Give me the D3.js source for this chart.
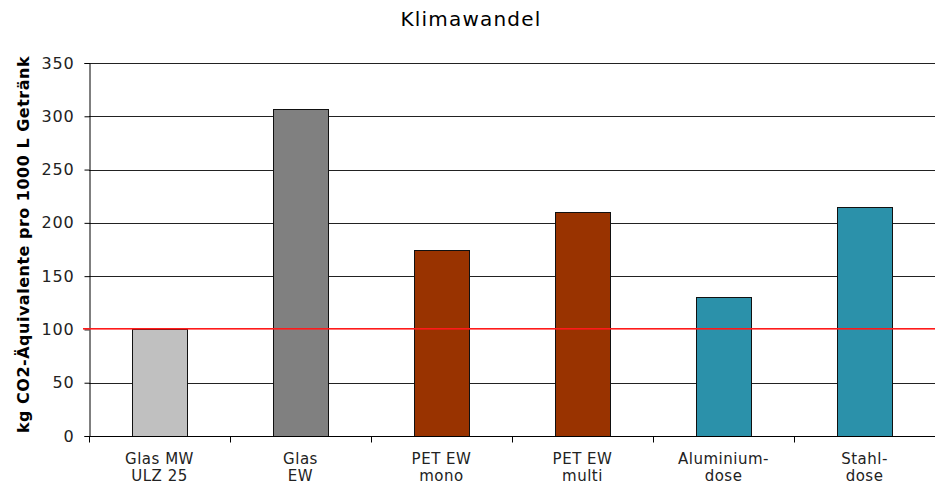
<!DOCTYPE html>
<html>
<head>
<meta charset="utf-8">
<script src="https://cdn.jsdelivr.net/npm/d3@7"></script>
<style>
  body { margin: 0; background: #fff; }
  text { font-family: "DejaVu Sans", Verdana, sans-serif; fill: #000; }
</style>
</head>
<body>
<svg width="935" height="486"></svg>
<script>
// data
const categories = [["Glas MW", "ULZ 25"], ["Glas", "EW"], ["PET EW", "mono"], ["PET EW", "multi"], ["Aluminium-", "dose"], ["Stahl-", "dose"]];
const values = [100, 307, 175, 210, 130, 215];
const colors = ["#c0c0c0", "#808080", "#993300", "#993300", "#2b91aa", "#2b91aa"];
const yTicks = [0, 50, 100, 150, 200, 250, 300, 350];
const refValue = 100;
const title = "Klimawandel";
const yTitle = "kg CO2-Äquivalente pro 1000 L Getränk";

let svg = d3.select("svg");
let margin = { left: 89, right: 0, top: 63, bottom: 50 };
let width = +svg.attr("width");
let height = +svg.attr("height");

let keys = categories.map(c => c.join(" "));

let x = d3.scaleBand().domain(keys)
  .range([margin.left, width - margin.right])
  .paddingInner(0.61).paddingOuter(0.305);
let xCat = d3.scaleBand().domain(keys).range([margin.left, width - margin.right]);
let y = d3.scaleLinear().domain([0, 350]).range([height - margin.bottom, margin.top]);

let crisp = v => Math.round(v) + 0.5;

// gridlines (the 100 line is drawn red below)
svg.append("g")
  .selectAll("line")
  .data(yTicks.filter(t => t > 0 && t !== refValue))
  .enter().append("line")
    .attr("x1", margin.left).attr("x2", width - margin.right)
    .attr("y1", d => crisp(y(d))).attr("y2", d => crisp(y(d)))
    .style("stroke", "#222").style("stroke-width", 1);

// bars
svg.append("g")
  .selectAll("rect")
  .data(values)
  .enter().append("rect")
    .attr("x", (d, i) => crisp(x(keys[i])))
    .attr("y", d => crisp(y(d)))
    .attr("width", Math.round(x.bandwidth()))
    .attr("height", d => Math.round(y(0)) - Math.round(y(d)))
    .style("fill", (d, i) => colors[i])
    .style("stroke", "#111").style("stroke-width", 1);

// y axis
let yAxis = svg.append("g")
  .attr("transform", `translate(${crisp(margin.left)},0)`)
  .call(d3.axisLeft(y).tickValues(yTicks).tickSize(5).tickPadding(10));
yAxis.select(".domain").style("stroke", "#000");
yAxis.selectAll(".tick line").style("stroke", "#000");
yAxis.selectAll(".tick text")
  .style("font-size", "16px").style("letter-spacing", "0.8px")
  .style("fill", "#222");

// red reference line on top
svg.append("rect")
  .attr("x", margin.left - 6)
  .attr("y", Math.round(y(refValue)) - 1)
  .attr("width", width - margin.right - margin.left + 6)
  .attr("height", 1.6)
  .style("fill", "#ff1a1a");

// x axis: ticks at category boundaries
let xAxisG = svg.append("g")
  .attr("transform", `translate(0,${crisp(y(0))})`);
xAxisG.append("line")
  .attr("x1", margin.left).attr("x2", width - margin.right)
  .style("stroke", "#000");
xAxisG.selectAll(".xtick")
  .data(keys)
  .enter().append("line")
    .attr("class", "xtick")
    .attr("x1", d => crisp(xCat(d))).attr("x2", d => crisp(xCat(d)))
    .attr("y1", 0).attr("y2", 6)
    .style("stroke", "#000");

let labels = svg.append("g")
  .selectAll("text")
  .data(categories)
  .enter().append("text")
    .attr("text-anchor", "middle")
    .style("font-size", "15px")
    .style("letter-spacing", "0.5px")
    .style("fill", "#222");
labels.append("tspan")
  .attr("x", (d, i) => xCat(keys[i]) + xCat.bandwidth() / 2)
  .attr("y", 464)
  .text(d => d[0]);
labels.append("tspan")
  .attr("x", (d, i) => xCat(keys[i]) + xCat.bandwidth() / 2)
  .attr("y", 481)
  .text(d => d[1]);

// title
svg.append("text")
  .attr("x", 471).attr("y", 26)
  .attr("text-anchor", "middle")
  .style("font-size", "20px").style("letter-spacing", "1.2px")
  .text(title);

// y axis title
svg.append("text")
  .attr("transform", `translate(29,${(y(0) + y(350)) / 2 - 5}) rotate(-90)`)
  .attr("text-anchor", "middle")
  .style("font-size", "16px").style("font-weight", "bold")
  .style("letter-spacing", "0.5px")
  .text(yTitle);
</script>
</body>
</html>
